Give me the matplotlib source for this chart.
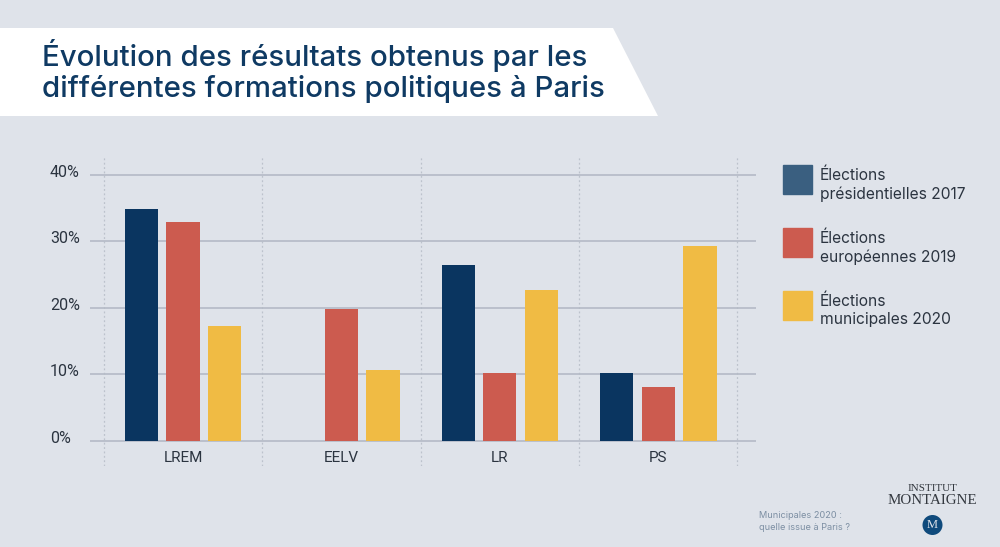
import matplotlib
matplotlib.use("Agg")
import matplotlib.pyplot as plt
from matplotlib.patches import Polygon, Patch, Circle
from matplotlib.transforms import ScaledTranslation
import numpy as np

categories = ["LREM", "EELV", "LR", "PS"]
series_names = ["Élections\nprésidentielles 2017", "Élections\neuropéennes 2019", "Élections\nmunicipales 2020"]
pres_2017 = [34.8, np.nan, 26.4, 10.2]
euro_2019 = [32.9, 19.9, 10.2, 8.1]
muni_2020 = [17.2, 10.7, 22.7, 29.3]
y_ticks = [0, 10, 20, 30, 40]
y_labels = ["0%", "10%", "20%", "30%", "40%"]

BG = "#dfe3ea"
NAVY = "#0a3560"
RED = "#cc5b4f"
YEL = "#f0bb44"
LEG_NAVY = "#3a5f80"
TXT = "#2b3440"
W, H = 1000, 547
plt.rcParams["font.family"] = ["Roboto", "DejaVu Sans"]

fig = plt.figure(figsize=(W/100, H/100), dpi=100, facecolor=BG)
ax = fig.add_axes([90/W, 1-466/H, (756-90)/W, (466-157)/H], facecolor="none")

x = np.arange(len(categories))
bw, step = 33.3/158.4, 41.6/158.4
for off, vals, c in zip((-step, 0, step), (pres_2017, euro_2019, muni_2020), (NAVY, RED, YEL)):
    ax.bar(x+off, vals, width=bw, color=c, zorder=3)

ax.set_xlim(-0.587, 3.617)
ax.set_ylim(-3.75, 42.65)
ax.set_yticks(y_ticks, y_labels)
ax.set_xticks(x, categories)
ax.set_xticks(np.arange(-0.5, 4), minor=True)
ax.grid(axis="y", color="#b4bac6", lw=1.2, zorder=1)
ax.grid(axis="x", which="minor", color="#bcc2cc", lw=0.9, ls=(0, (1.5, 2)), zorder=1)
ax.tick_params(which="both", length=0)
ax.tick_params(axis="y", labelsize=11.5, labelcolor=TXT, pad=28.8)
ax.tick_params(axis="x", labelsize=11, labelcolor=TXT, pad=-11)
for l in ax.get_yticklabels():
    l.set_horizontalalignment("left")
    l.set_transform(l.get_transform() + ScaledTranslation(0, 4.0/100, fig.dpi_scale_trans))
for s in ax.spines.values():
    s.set_visible(False)

handles = [Patch(color=c) for c in (LEG_NAVY, RED, YEL)]
leg = fig.legend(handles, series_names, loc="upper left", bbox_to_anchor=(783/W, 1-168/H), borderpad=0, borderaxespad=0,
                 frameon=False, prop={"family": "Inter", "size": 11.2}, handlelength=29*0.72/11.2, handleheight=2.3, handletextpad=0.5,
                 labelspacing=1.87, labelcolor=TXT)
for t in leg.get_texts():
    t.set_linespacing(1.22)
for h in leg.legend_handles:
    h.set_y(h.get_y() + 3.8)
    h.set_height(29*0.72)

bg = fig.add_axes([0, 0, 1, 1], facecolor="none", zorder=-1)
bg.set_xlim(0, W); bg.set_ylim(H, 0); bg.axis("off")
bg.add_patch(Polygon([(0, 28), (613, 28), (658, 116), (0, 116)], color="white", lw=0))
fig.text(42/W, 1-66/H, "Évolution des résultats obtenus par les", fontsize=21.2, family="Inter", fontweight="medium", color="#0f3a63", va="baseline")
fig.text(42/W, 1-97/H, "différentes formations politiques à Paris", fontsize=21.2, family="Inter", fontweight="medium", color="#0f3a63", va="baseline")
fig.text(759/W, 1-516/H, "Municipales 2020 :", fontsize=6.6, family="Inter", color="#7d8fa3", va="center")
fig.text(759/W, 1-527/H, "quelle issue à Paris ?", fontsize=6.6, family="Inter", color="#7d8fa3", va="center")
fig.text(932.5/W, 1-490.7/H, "INSTITUT", fontsize=8, family="Liberation Serif", color="#33383f", ha="center", va="baseline")
fig.text(932.5/W, 1-504/H, "MONTAIGNE", fontsize=10.8, family="Liberation Serif", color="#33383f", ha="center", va="baseline")
bg.add_patch(Circle((932.5, 525), 10, color="#0f4a7c", lw=0))
fig.text(932.5/W, 1-525/H, "M", fontsize=9, family="Liberation Serif", color="#dfe3ea", ha="center", va="center")
fig.savefig("out.png", dpi=100, facecolor=BG)
